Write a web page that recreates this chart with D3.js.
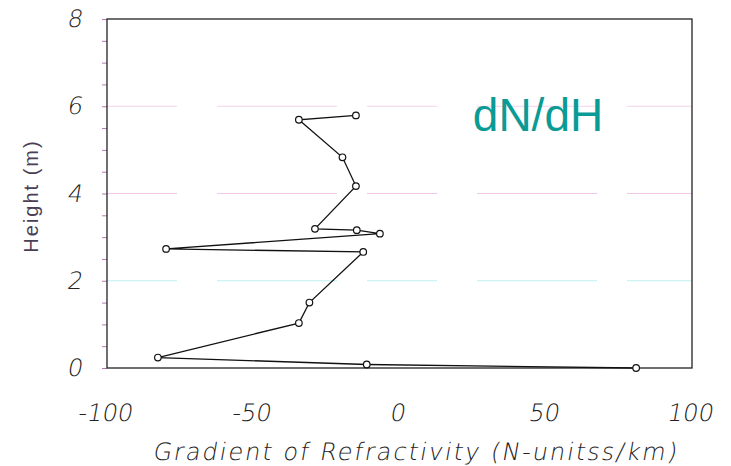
<!DOCTYPE html>
<html>
<head>
<meta charset="utf-8">
<script src="https://cdn.jsdelivr.net/npm/d3@7"></script>
<style>
  html, body { margin: 0; padding: 0; background: #fff; }
  svg { display: block; }
</style>
</head>
<body>
<svg id="chart" width="731" height="466"></svg>
<script>
// Refractivity gradient profile: gradient (N-units/km) against height (m)
const gradient = [-14.9, -34.4, -19.5, -14.9, -28.9, -14.6, -6.7, -79.8, -12.4, -30.8, -34.4, -82.6, -11.2, 80.9];
const height   = [5.79, 5.69, 4.83, 4.17, 3.19, 3.16, 3.08, 2.73, 2.66, 1.50, 1.03, 0.24, 0.08, 0.0];

const xTicks = [-100, -50, 0, 50, 100];
const yTicks = [0, 2, 4, 6, 8];
const yMinorTicks = d3.range(0, 8.01, 0.5);
const gridLevels = [2, 4, 6];
const gridColors = ["#bfeff2", "#f1c6ea", "#f4d2ee"];

const xTitle = "Gradient of Refractivity (N-unitss/km)";
const yTitle = "Height (m)";
const note = "dN/dH";

const svg = d3.select("#chart");
const plot = { left: 107, right: 692, top: 19, bottom: 368 };

const x = d3.scaleLinear().domain([-100, 100]).range([plot.left, plot.right]);
const y = d3.scaleLinear().domain([0, 8]).range([plot.bottom, plot.top]);

// plain hyphen for negatives
const fmt = d => String(d);
const slant = Math.tan(10 * Math.PI / 180);

// faint horizontal guide lines
svg.append("g").selectAll("line")
  .data(gridLevels)
  .join("line")
  .attr("x1", plot.left).attr("x2", plot.right)
  .attr("y1", d => y(d)).attr("y2", d => y(d))
  .attr("stroke", (d, i) => gridColors[i])
  .attr("stroke-width", 1.2)
  .attr("stroke-dasharray", "70,40,120,30");

// minor ticks on the left edge
svg.append("g")
  .attr("transform", `translate(${plot.left},0)`)
  .call(d3.axisLeft(y).tickValues(yMinorTicks).tickSize(5).tickFormat(""))
  .call(g => g.select(".domain").remove())
  .call(g => g.selectAll("line").attr("stroke", "#b07aa8").attr("stroke-width", 1));

// plot frame
svg.append("rect")
  .attr("x", plot.left).attr("y", plot.top)
  .attr("width", plot.right - plot.left).attr("height", plot.bottom - plot.top)
  .attr("fill", "none").attr("stroke", "#222").attr("stroke-width", 1.3);

// tick labels: thin, lightly slanted
const labelFont = "'DejaVu Sans', sans-serif";
const styleLabels = g => g.selectAll("text")
  .attr("font-family", labelFont).attr("font-weight", 200)
  .attr("font-size", 24).attr("fill", "#222")
  .each(function () {
    const t = d3.select(this);
    const ty = +t.attr("y") || 0;
    const tx = +t.attr("x") || 0;
    // shear around the label's own anchor point
    t.attr("transform", `translate(${tx + ty * slant},0) skewX(-10) translate(${-tx},0)`);
  });

svg.append("g")
  .attr("transform", `translate(0,${plot.bottom})`)
  .call(d3.axisBottom(x).tickValues(xTicks).tickSize(0).tickPadding(36).tickFormat(fmt))
  .call(g => g.select(".domain").remove())
  .call(styleLabels);

svg.append("g")
  .attr("transform", `translate(${plot.left},0)`)
  .call(d3.axisLeft(y).tickValues(yTicks).tickSize(0).tickPadding(24).tickFormat(fmt))
  .call(g => g.select(".domain").remove())
  .call(styleLabels);

// axis titles
const titleY = 460;
svg.append("text")
  .attr("x", 415).attr("y", titleY)
  .attr("transform", `translate(${titleY * slant},0) skewX(-10)`)
  .attr("text-anchor", "middle")
  .attr("font-family", labelFont).attr("font-weight", 200)
  .attr("font-size", 24).attr("letter-spacing", 2).attr("fill", "#222")
  .text(xTitle);

svg.append("text")
  .attr("transform", "translate(38,196) rotate(-90)")
  .attr("text-anchor", "middle")
  .attr("font-family", "'Liberation Sans', Arial, sans-serif").attr("font-weight", 400)
  .attr("font-size", 20).attr("letter-spacing", 2).attr("fill", "#4a3f55")
  .text(yTitle);

// profile line and markers
const pts = gradient.map((g, i) => ({ g, h: height[i] }));
svg.append("path")
  .datum(pts)
  .attr("fill", "none").attr("stroke", "#111").attr("stroke-width", 1.3)
  .attr("d", d3.line().x(d => x(d.g)).y(d => y(d.h)));

svg.append("g").selectAll("circle")
  .data(pts)
  .join("circle")
  .attr("cx", d => x(d.g)).attr("cy", d => y(d.h))
  .attr("r", 3.3)
  .attr("fill", "#fff").attr("stroke", "#111").attr("stroke-width", 1.2);

// annotation
svg.append("text")
  .attr("x", 538).attr("y", 131)
  .attr("text-anchor", "middle")
  .attr("font-family", "'Liberation Sans', Arial, sans-serif")
  .attr("font-size", 46).attr("fill", "#0b9b97")
  .text(note);
</script>
</body>
</html>
